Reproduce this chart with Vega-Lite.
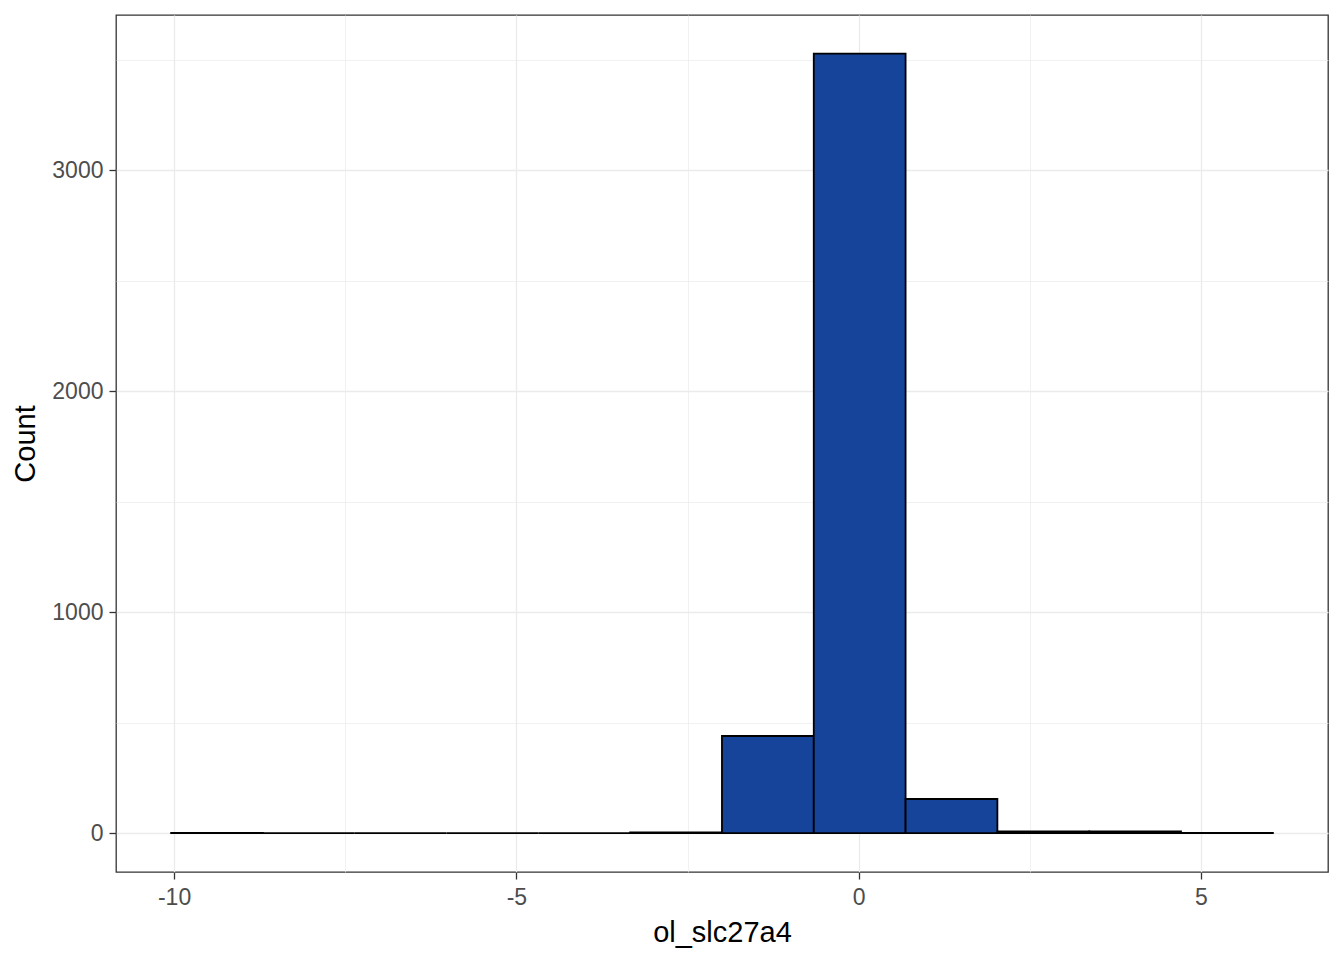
{
  "$schema": "https://vega.github.io/schema/vega-lite/v6.json",
  "autosize": {"type": "none"},
  "width": 1212,
  "height": 857,
  "padding": {"left": 116, "top": 15, "right": 16, "bottom": 88},
  "background": "white",
  "config": {
    "view": {"stroke": "#333333", "strokeWidth": 1.3},
    "font": "Liberation Sans"
  },
  "data": {
    "values": [
      {"bin_start": -10.043, "bin_end": -8.702, "count": 1},
      {"bin_start": -8.702, "bin_end": -7.361, "count": 0},
      {"bin_start": -7.361, "bin_end": -6.020, "count": 0},
      {"bin_start": -6.020, "bin_end": -4.679, "count": 0},
      {"bin_start": -4.679, "bin_end": -3.338, "count": 0},
      {"bin_start": -3.338, "bin_end": -1.997, "count": 3},
      {"bin_start": -1.997, "bin_end": -0.656, "count": 439},
      {"bin_start": -0.656, "bin_end": 0.685, "count": 3527},
      {"bin_start": 0.685, "bin_end": 2.026, "count": 154},
      {"bin_start": 2.026, "bin_end": 3.367, "count": 7},
      {"bin_start": 3.367, "bin_end": 4.708, "count": 7},
      {"bin_start": 4.708, "bin_end": 6.050, "count": 1}
    ]
  },
  "mark": {"type": "rect", "fill": "#17449B", "stroke": "black", "strokeWidth": 1.8},
  "encoding": {
    "x": {
      "field": "bin_start",
      "type": "quantitative",
      "scale": {"domain": [-10.848, 6.855], "nice": false, "zero": false},
      "axis": {
        "title": "ol_slc27a4",
        "values": [-10, -7.5, -5, -2.5, 0, 2.5, 5],
        "labelExpr": "datum.value % 5 == 0 ? '' + datum.value : ''",
        "labelFontSize": 23,
        "labelColor": "#4D4D4D",
        "labelPadding": 7,
        "tickSize": 7,
        "tickWidth": 1.3,
        "tickColor": {"condition": {"test": "datum.value % 5 != 0", "value": "transparent"}, "value": "#333333"},
        "domain": false,
        "grid": true,
        "gridColor": "#EBEBEB",
        "gridWidth": {"condition": {"test": "datum.value % 5 != 0", "value": 0.7}, "value": 1.3},
        "titleFontSize": 29,
        "titleFontWeight": "normal",
        "titleColor": "black",
        "titleBaseline": "alphabetic",
        "titleX": 606,
        "titleY": 69
      }
    },
    "x2": {"field": "bin_end"},
    "y": {
      "field": "count",
      "type": "quantitative",
      "scale": {"domain": [-176.3, 3701.5], "nice": false, "zero": false},
      "axis": {
        "title": "Count",
        "values": [0, 500, 1000, 1500, 2000, 2500, 3000, 3500],
        "labelExpr": "datum.value % 1000 == 0 ? '' + datum.value : ''",
        "labelFontSize": 23,
        "labelColor": "#4D4D4D",
        "labelPadding": 6,
        "tickSize": 7,
        "tickWidth": 1.3,
        "tickColor": {"condition": {"test": "datum.value % 1000 != 0", "value": "transparent"}, "value": "#333333"},
        "domain": false,
        "grid": true,
        "gridColor": "#EBEBEB",
        "gridWidth": {"condition": {"test": "datum.value % 1000 != 0", "value": 0.7}, "value": 1.3},
        "titleFontSize": 29,
        "titleFontWeight": "normal",
        "titleColor": "black",
        "titleAngle": -90,
        "titleBaseline": "alphabetic",
        "titleX": -82,
        "titleY": 428.5
      }
    },
    "y2": {"datum": 0}
  }
}
